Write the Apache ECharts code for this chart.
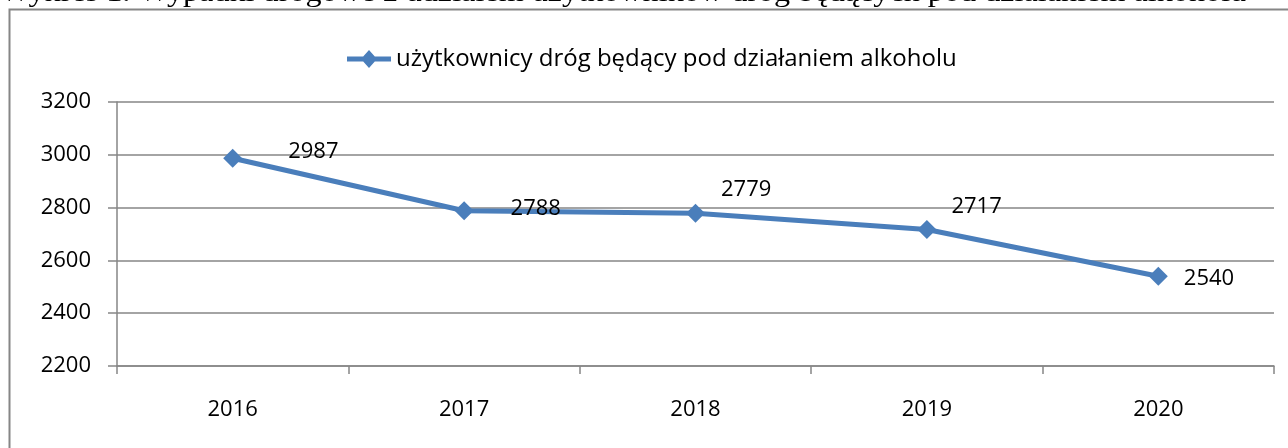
<!DOCTYPE html>
<html>
<head>
<meta charset="utf-8">
<script src="https://cdn.jsdelivr.net/npm/echarts@6/dist/echarts.min.js"></script>
<style>
html,body{margin:0;padding:0;background:#fff;}
#c{width:1288px;height:448px;}
</style>
</head>
<body>
<div id="c"></div>
<script>
const categories = ['2016', '2017', '2018', '2019', '2020'];
const values = [2987, 2788, 2779, 2717, 2540];
const seriesName = 'użytkownicy dróg będący pod działaniem alkoholu';
const titleText = 'Wykres 1. Wypadki drogowe z udziałem użytkowników dróg będących pod działaniem alkoholu';
const yTicks = { min: 2200, max: 3200, interval: 200 };
// label offsets (style only)
const labelOffsets = [[41, -6], [32, -2], [11, -23], [10, -23], [11, 2]];

const FONT = '"Open Sans", sans-serif';
const legendIcon = 'path://M0,6.5L16.2,6.5L22,0L27.8,6.5L44,6.5L44,11.5L27.8,11.5L22,18L16.2,11.5L0,11.5Z';
const chart = echarts.init(document.getElementById('c'), null, { renderer: 'canvas' });
chart.setOption({
  animation: false,
  backgroundColor: '#ffffff',
  graphic: [
    { type: 'rect', shape: { x: 9.5, y: 9.5, width: 1300, height: 460 },
      style: { fill: 'none', stroke: '#868686', lineWidth: 2 }, z: -1, silent: true },
    { type: 'text', x: 0, y: -6, style: { text: titleText, font: '28px "Liberation Serif", serif',
      fill: '#000', verticalAlign: 'middle' }, scaleX: 1.15, silent: true }
  ],
  legend: {
    show: true,
    left: 342, top: 42,
    itemWidth: 44, itemHeight: 18,
    itemGap: 10,
    textStyle: { fontFamily: FONT, fontSize: 24, color: '#000' },
    data: [{ name: seriesName, icon: legendIcon }]
  },
  grid: { left: 117, right: 14, top: 102, bottom: 82, containLabel: false },
  xAxis: {
    type: 'category',
    data: categories,
    boundaryGap: true,
    axisLine: { show: true, lineStyle: { color: '#868686', width: 1.5 } },
    axisTick: { show: true, length: 8, lineStyle: { color: '#868686', width: 1.5 } },
    axisLabel: { fontFamily: FONT, fontSize: 22, color: '#000', margin: 33 },
    splitLine: { show: false }
  },
  yAxis: {
    type: 'value',
    min: yTicks.min, max: yTicks.max, interval: yTicks.interval,
    axisLine: { show: true, lineStyle: { color: '#868686', width: 1.5 } },
    axisTick: { show: true, length: 9, lineStyle: { color: '#868686', width: 1.5 } },
    axisLabel: { fontFamily: FONT, fontSize: 22, color: '#000', margin: 26, formatter: v => String(v) },
    splitLine: { show: true, lineStyle: { color: '#868686', width: 1.5 } }
  },
  series: [{
    name: seriesName,
    type: 'line',
    data: values.map((v, i) => ({
      value: v,
      label: { offset: labelOffsets[i] }
    })),
    symbol: 'diamond',
    symbolSize: 19,
    lineStyle: { color: '#4A7EBB', width: 5 },
    itemStyle: { color: '#4A7EBB' },
    label: { show: true, position: 'right', distance: 5, fontFamily: FONT, fontSize: 22, color: '#000' }
  }]
});
</script>
</body>
</html>
